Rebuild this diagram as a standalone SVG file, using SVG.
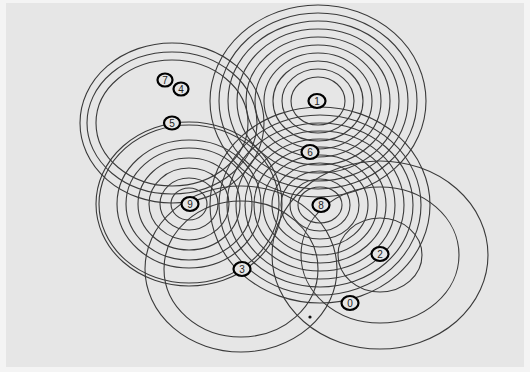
<svg xmlns="http://www.w3.org/2000/svg" width="530" height="372" viewBox="0 0 530 372">
<style>
.r{fill:none;stroke:#3a3a3a;stroke-width:1.1}
.n ellipse{fill:#e6e6e6;stroke:#000;stroke-width:2.2}
.n text{font-family:"Liberation Sans",Arial,sans-serif;font-size:10px;fill:#222;text-anchor:middle;dominant-baseline:central}
</style>
<rect x="0" y="0" width="530" height="372" fill="#f4f4f4"/>
<rect x="6" y="3" width="518" height="364" fill="#e6e6e6"/>
<g id="rings">
<g id="ring1">
<ellipse class="r" cx="318" cy="101" rx="27" ry="24"/>
<ellipse class="r" cx="318" cy="101" rx="36" ry="32"/>
<ellipse class="r" cx="318" cy="101" rx="45" ry="40"/>
<ellipse class="r" cx="318" cy="101" rx="54" ry="48"/>
<ellipse class="r" cx="318" cy="101" rx="63" ry="56"/>
<ellipse class="r" cx="318" cy="101" rx="72" ry="64"/>
<ellipse class="r" cx="318" cy="101" rx="81" ry="72"/>
<ellipse class="r" cx="318" cy="101" rx="90" ry="80"/>
<ellipse class="r" cx="318" cy="101" rx="99" ry="88"/>
<ellipse class="r" cx="318" cy="101" rx="108" ry="96"/>
</g>
<g id="ring8">
<ellipse class="r" cx="320" cy="205" rx="22" ry="18"/>
<ellipse class="r" cx="320" cy="205" rx="30" ry="26"/>
<ellipse class="r" cx="320" cy="205" rx="39" ry="34"/>
<ellipse class="r" cx="320" cy="205" rx="48" ry="42"/>
<ellipse class="r" cx="320" cy="205" rx="57" ry="50"/>
<ellipse class="r" cx="320" cy="205" rx="66" ry="58"/>
<ellipse class="r" cx="320" cy="205" rx="75" ry="66"/>
<ellipse class="r" cx="320" cy="205" rx="84" ry="74"/>
<ellipse class="r" cx="320" cy="205" rx="93" ry="82"/>
<ellipse class="r" cx="320" cy="205" rx="101" ry="90"/>
<ellipse class="r" cx="320" cy="205" rx="110" ry="98"/>
</g>
<g id="ring9">
<ellipse class="r" cx="189" cy="204" rx="18" ry="16"/>
<ellipse class="r" cx="189" cy="204" rx="29" ry="26"/>
<ellipse class="r" cx="189" cy="204" rx="40" ry="36"/>
<ellipse class="r" cx="189" cy="204" rx="51" ry="46"/>
<ellipse class="r" cx="189" cy="204" rx="63" ry="56"/>
<ellipse class="r" cx="189" cy="204" rx="72" ry="64"/>
<ellipse class="r" cx="189" cy="204" rx="90" ry="79"/>
<ellipse class="r" cx="189" cy="204" rx="93" ry="82"/>
</g>
<g id="ring5">
<ellipse class="r" cx="172" cy="123" rx="76" ry="63"/>
<ellipse class="r" cx="172" cy="123" rx="85" ry="71"/>
<ellipse class="r" cx="172" cy="123" rx="92" ry="80"/>
</g>
<g id="ring3">
<ellipse class="r" cx="241" cy="269" rx="77" ry="68"/>
<ellipse class="r" cx="241" cy="269" rx="96" ry="83"/>
</g>
<g id="ring2">
<ellipse class="r" cx="380" cy="255" rx="42" ry="37"/>
<ellipse class="r" cx="380" cy="255" rx="79" ry="68"/>
<ellipse class="r" cx="380" cy="255" rx="108" ry="94"/>
</g>
<circle cx="310" cy="317" r="1.6" fill="#111"/>
</g>
<g id="node7" class="n"><ellipse cx="165" cy="80" rx="7.5" ry="6.5"/><text x="165" y="80">7</text></g>
<g id="node4" class="n"><ellipse cx="181" cy="89" rx="7.5" ry="6.5"/><text x="181" y="89">4</text></g>
<g id="node5" class="n"><ellipse cx="172" cy="123" rx="8" ry="6.5"/><text x="172" y="123">5</text></g>
<g id="node1" class="n"><ellipse cx="317" cy="101" rx="8.5" ry="7"/><text x="317" y="101">1</text></g>
<g id="node6" class="n"><ellipse cx="310" cy="152" rx="8.5" ry="7"/><text x="310" y="152">6</text></g>
<g id="node9" class="n"><ellipse cx="190" cy="204" rx="8.5" ry="7"/><text x="190" y="204">9</text></g>
<g id="node8" class="n"><ellipse cx="321" cy="205" rx="8.5" ry="7"/><text x="321" y="205">8</text></g>
<g id="node3" class="n"><ellipse cx="242" cy="269" rx="8.5" ry="7"/><text x="242" y="269">3</text></g>
<g id="node2" class="n"><ellipse cx="380" cy="254" rx="8.5" ry="7"/><text x="380" y="254">2</text></g>
<g id="node0" class="n"><ellipse cx="350" cy="303" rx="8.5" ry="7"/><text x="350" y="303">0</text></g>
</svg>
